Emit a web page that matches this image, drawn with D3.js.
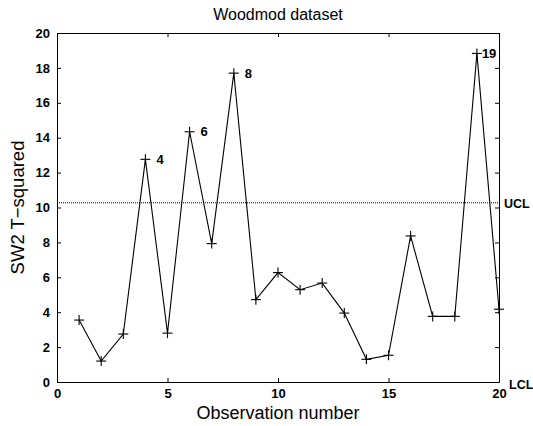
<!DOCTYPE html>
<html>
<head>
<meta charset="utf-8">
<script src="https://cdn.jsdelivr.net/npm/d3@7"></script>
<style>
  html, body { margin: 0; padding: 0; background: #fff; }
  svg { display: block; font-family: "Liberation Sans", Arial, sans-serif; }
</style>
</head>
<body>
<svg id="chart" width="533" height="426"></svg>
<script>
// Observation numbers and their SW2 T-squared statistic
const observations = [1, 2, 3, 4, 5, 6, 7, 8, 9, 10, 11, 12, 13, 14, 15, 16, 17, 18, 19, 20];
const tSquared = [3.55, 1.2, 2.75, 12.76, 2.8, 14.34, 7.93, 17.7, 4.72, 6.27,
                  5.29, 5.67, 3.95, 1.3, 1.53, 8.37, 3.76, 3.76, 18.83, 4.17];
// Observations flagged above the upper control limit
const flagged = [4, 6, 8, 19];
// Control limits
const limitNames = ["UCL", "LCL"];
const limitValues = [10.27, 0];
// Axis ticks
const xTicks = [0, 5, 10, 15, 20];
const yTicks = [0, 2, 4, 6, 8, 10, 12, 14, 16, 18, 20];

(function draw() {
  const svg = d3.select("#chart");
  const plotL = 57, plotR = 499, plotT = 33, plotB = 382;

  const x = d3.scaleLinear().domain([0, 20]).range([plotL, plotR]);
  const y = d3.scaleLinear().domain([0, 20]).range([plotB, plotT]);

  const tickLen = 4;

  // Frame with inward ticks on all four sides
  const axisStyle = g => {
    g.selectAll("path.domain").attr("stroke", "#000").attr("stroke-width", 1);
    g.selectAll(".tick line").attr("stroke", "#000").attr("stroke-width", 1);
    g.selectAll(".tick text").attr("fill", "#000")
      .attr("font-size", 13).attr("font-weight", "bold");
  };

  svg.append("g").attr("transform", `translate(0,${plotB})`)
    .call(d3.axisBottom(x).tickValues(xTicks).tickSizeInner(-tickLen).tickSizeOuter(0).tickPadding(7))
    .call(axisStyle);
  svg.append("g").attr("transform", `translate(0,${plotT})`)
    .call(d3.axisTop(x).tickValues(xTicks).tickSizeInner(-tickLen).tickSizeOuter(0).tickFormat(""))
    .call(axisStyle);
  svg.append("g").attr("transform", `translate(${plotL},0)`)
    .call(d3.axisLeft(y).tickValues(yTicks).tickSizeInner(-tickLen).tickSizeOuter(0).tickPadding(7))
    .call(axisStyle);
  svg.append("g").attr("transform", `translate(${plotR},0)`)
    .call(d3.axisRight(y).tickValues(yTicks).tickSizeInner(-tickLen).tickSizeOuter(0).tickFormat(""))
    .call(axisStyle);

  // Control limit lines and their labels
  limitNames.forEach((name, i) => {
    const v = limitValues[i];
    if (v > 0) {
      svg.append("line")
        .attr("x1", x(0)).attr("x2", x(20))
        .attr("y1", y(v)).attr("y2", y(v))
        .attr("stroke", "#000").attr("stroke-width", 1)
        .attr("stroke-dasharray", "1,1");
    }
    svg.append("text")
      .attr("x", plotR + (v > 0 ? 5 : 10))
      .attr("y", y(v) + (v > 0 ? 5 : 7))
      .attr("font-size", 12.5).attr("font-weight", "bold")
      .text(name);
  });

  // Series line
  const pts = observations.map((o, i) => [o, tSquared[i]]);
  svg.append("path")
    .datum(pts)
    .attr("fill", "none")
    .attr("stroke", "#000")
    .attr("stroke-width", 1.1)
    .attr("d", d3.line().x(d => x(d[0])).y(d => y(d[1])));

  // Plus markers
  const m = 5;
  const markers = svg.append("g").attr("stroke", "#000").attr("stroke-width", 1.1);
  pts.forEach(d => {
    const cx = x(d[0]), cy = y(d[1]);
    markers.append("line").attr("x1", cx - m).attr("x2", cx + m).attr("y1", cy).attr("y2", cy);
    markers.append("line").attr("x1", cx).attr("x2", cx).attr("y1", cy - m).attr("y2", cy + m);
  });

  // Labels for flagged observations
  flagged.forEach(o => {
    const v = tSquared[observations.indexOf(o)];
    svg.append("text")
      .attr("x", x(o) + (o === 19 ? 5 : 11))
      .attr("y", y(v) + 4.5)
      .attr("font-size", 13).attr("font-weight", "bold")
      .text(o);
  });

  // Title and axis titles
  svg.append("text")
    .attr("x", (plotL + plotR) / 2).attr("y", 20)
    .attr("text-anchor", "middle").attr("font-size", 16)
    .text("Woodmod dataset");
  svg.append("text")
    .attr("x", (plotL + plotR) / 2).attr("y", 419)
    .attr("text-anchor", "middle").attr("font-size", 18)
    .text("Observation number");
  svg.append("text")
    .attr("transform", `translate(24,${(plotT + plotB) / 2}) rotate(-90)`)
    .attr("text-anchor", "middle").attr("font-size", 18.5)
    .text("SW2 T\u2212squared");
})();
</script>
</body>
</html>
